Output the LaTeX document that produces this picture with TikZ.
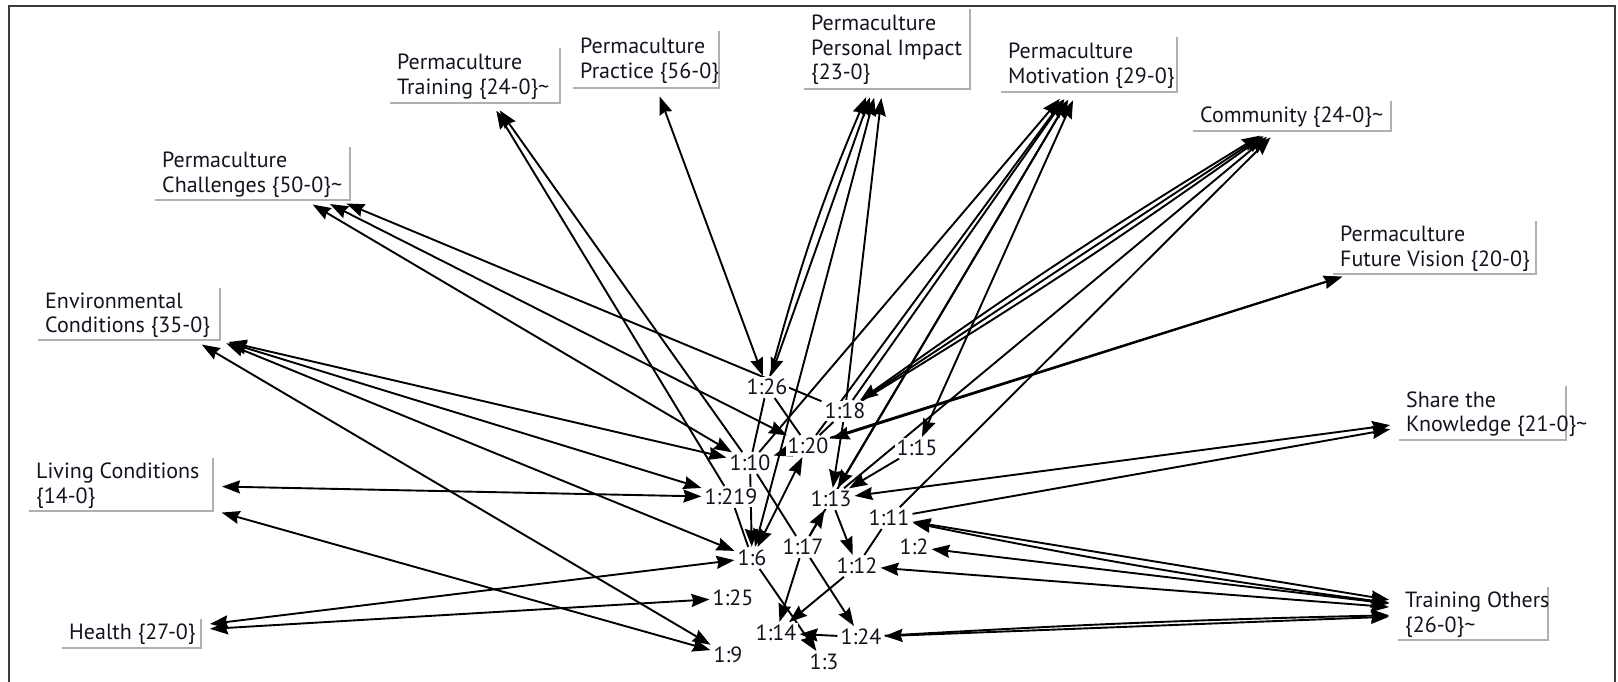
\documentclass[tikz,border=0pt]{standalone}
\usepackage{fontspec}
\setmainfont{PT Sans}
\usetikzlibrary{arrows.meta,backgrounds}
\definecolor{ink}{HTML}{141420}
\definecolor{shade}{HTML}{B0B0B0}
\definecolor{framegray}{HTML}{3A3A3A}
\begin{document}
\begin{tikzpicture}[x=1pt,y=-1pt,
  >={Stealth[length=18pt,width=13pt,inset=2pt]},
  txt/.style={font=\fontsize{22}{24.5}\selectfont, text=ink},
  codebox/.style={draw=none, anchor=north west, inner sep=0pt, outer sep=0pt},
  codetext/.style={txt, anchor=west, align=left, inner sep=0pt},
  qnode/.style={txt, fill=white, inner sep=2pt},
  boxshade/.style={draw=shade, line width=1.6pt},
  link/.style={line width=1.9pt, draw=black, shorten >=9pt, shorten <=1pt},
  qq/.style={line width=1.9pt, draw=black, shorten >=1pt, shorten <=1pt},
]
\useasboundingbox (0,0) rectangle (1618,681);
% outer frame
\draw[framegray, line width=1.6pt] (9,690) -- (9,6) -- (1615,6) -- (1615,690);

% code boxes
\node[codebox, minimum width=170pt, minimum height=55pt] (train) at (390,48) {};
\node[codebox, minimum width=146pt, minimum height=57pt] (pract) at (573,31) {};
\node[codebox, minimum width=166pt, minimum height=80pt] (pimp) at (804,9) {};
\node[codebox, minimum width=176pt, minimum height=55pt] (motiv) at (1001,37) {};
\node[codebox, minimum width=198pt, minimum height=30pt] (comm) at (1193,101) {};
\node[codebox, minimum width=203pt, minimum height=53pt] (fvis) at (1333,221) {};
\node[codebox, minimum width=167pt, minimum height=54pt] (share) at (1399,386) {};
\node[codebox, minimum width=150pt, minimum height=53pt] (tothers) at (1398,587) {};
\node[codebox, minimum width=195pt, minimum height=53pt] (chall) at (155,147) {};
\node[codebox, minimum width=182pt, minimum height=52pt] (env) at (38,288) {};
\node[codebox, minimum width=184pt, minimum height=53pt] (living) at (29,458) {};
\node[codebox, minimum width=139pt, minimum height=29pt] (health) at (62,619) {};

\foreach \b in {train,pract,pimp,motiv,comm,fvis,share,tothers,chall,env,living,health}
  \draw[boxshade] (\b.north east) -- (\b.south east) -- (\b.south west);

\node[codetext] (train-t) at ([xshift=7pt,yshift=-1pt]train.west) {Permaculture\\Training \{24-0\}\textasciitilde};
\node[codetext] (pract-t) at ([xshift=7pt,yshift=-1pt]pract.west) {Permaculture\\Practice \{56-0\}};
\node[codetext] (pimp-t) at ([xshift=7pt,yshift=-1pt]pimp.west) {Permaculture\\Personal Impact\\\{23-0\}};
\node[codetext] (motiv-t) at ([xshift=7pt,yshift=-1pt]motiv.west) {Permaculture\\Motivation \{29-0\}};
\node[codetext] (comm-t) at ([xshift=7pt,yshift=-1pt]comm.west) {Community \{24-0\}\textasciitilde};
\node[codetext] (fvis-t) at ([xshift=7pt,yshift=-1pt]fvis.west) {Permaculture\\Future Vision \{20-0\}};
\node[codetext] (share-t) at ([xshift=7pt,yshift=-1pt]share.west) {Share the\\Knowledge \{21-0\}\textasciitilde};
\node[codetext] (tothers-t) at ([xshift=7pt,yshift=-1pt]tothers.west) {Training Others\\\{26-0\}\textasciitilde};
\node[codetext] (chall-t) at ([xshift=7pt,yshift=-1pt]chall.west) {Permaculture\\Challenges \{50-0\}\textasciitilde};
\node[codetext] (env-t) at ([xshift=7pt,yshift=-1pt]env.west) {Environmental\\Conditions \{35-0\}};
\node[codetext] (living-t) at ([xshift=7pt,yshift=-1pt]living.west) {Living Conditions\\\{14-0\}};
\node[codetext] (health-t) at ([xshift=7pt,yshift=-1pt]health.west) {Health \{27-0\}};

% quotations
\node[qnode] (q26) at (767,387) {1:26};
\node[qnode] (q18) at (845,411) {1:18};
\node[qnode] (q20) at (808,446) {1:20};
\node[qnode] (q15) at (917,448) {1:15};
\node[qnode] (q10) at (750,463) {1:10};
\node[qnode] (q219) at (731,497) {1:219};
\node[qnode] (q13) at (831,499) {1:13};
\node[qnode] (q11) at (889,518) {1:11};
\node[qnode] (q2) at (914,547) {1:2};
\node[qnode] (q6) at (752,558) {1:6};
\node[qnode] (q17) at (803,547) {1:17};
\node[qnode] (q12) at (857,566) {1:12};
\node[qnode] (q25) at (733,598) {1:25};
\node[qnode] (q14) at (776,633) {1:14};
\node[qnode] (q24) at (861,637) {1:24};
\node[qnode] (q9) at (728,655) {1:9};
\node[qnode] (q3) at (824,662) {1:3};

\begin{scope}[on background layer]
  % quotation to code links
  \draw[link,->] (q10) -- (train);
  \draw[link,->] (q219) -- (train);
  \draw[link,->] (q18) -- ([xshift=-12pt]chall.south east);
  \draw[link,<->] (q20) -- ([xshift=-28pt]chall.south east);
  \draw[link,<->] (q10) -- ([xshift=-45pt]chall.south east);
  \draw[link,<->] (q26) -- (pract);
  \draw[link,<->] (q26) -- (pimp);
  \draw[link,->] (q26) to[bend left=4] (pimp);
  \draw[link,<->] (q6) -- (pimp);
  \draw[link,->] (q18) -- (pimp);
  \draw[link,->] (q10) -- (motiv);
  \draw[link,->] (q20) -- (motiv);
  \draw[link,->] (q18) -- (motiv);
  \draw[link,<->] (q13) -- (motiv);
  \draw[link,->] (q17) -- (motiv);
  \draw[link,<->] (q15) -- (motiv);
  \draw[link,<->] (q18) to[bend left=2] (comm);
  \draw[link,->] (q18) -- (comm);
  \draw[link,->] (q18) to[bend right=2] (comm);
  \draw[link,->] (q11) -- (comm);
  \draw[link,->] (q13) -- (comm);
  \draw[link,<->] (q20) -- (fvis);
  \draw[link,<->] (q10) -- (fvis);
  \draw[link,<->] (q13) -- (share);
  \draw[link,->] (q11) -- (share);
  \draw[link,<->] (q11) -- (tothers);
  \draw[link,<->] (q11) to[bend right=2] (tothers);
  \draw[link,<->] (q2) -- (tothers);
  \draw[link,<->] (q12) -- (tothers);
  \draw[link,<->] (q24) -- (tothers);
  \draw[link,->] (q24) to[bend left=1] (tothers);
  \draw[link,<->] (q10) -- (env.south east);
  \draw[link,<->] (q219) -- (env.south east);
  \draw[link,<->] (q6) -- ([xshift=-2pt]env.south east);
  \draw[link,<->] (q9) -- ([xshift=-26pt]env.south east);
  \draw[link,<->] (q219) -- (living);
  \draw[link,<->] (q9) -- (living);
  \draw[link,<->] (q6) -- (health);
  \draw[link,<->] (q25) -- (health);
  % links between quotations
  \draw[qq,->] (q6) -- (q3);
  \draw[qq,->] (q17) -- (q14);
  \draw[qq,->] (q17) -- (q24);
  \draw[qq,->] (q12) -- (q14);
  \draw[qq,->] (q24) -- (q14);
  \draw[qq,->] (q17) -- (q13);
  \draw[qq,->] (q13) -- (q12);
  \draw[qq] (q11) -- (q12);
  \draw[qq,->] (q10) -- (q6);
  \draw[qq,<->] (q20) -- (q6);
  \draw[qq] (q10) -- (q17);
  \draw[qq] (q219) -- (q6);
  \draw[qq,->] (q18) -- (q13);
  \draw[qq] (q20) -- (q18);
  \draw[qq,->] (q15) -- (q13);
  \draw[qq] (q26) -- (q10);
  \draw[qq] (q26) -- (q20);
\end{scope}
\end{tikzpicture}
\end{document}
